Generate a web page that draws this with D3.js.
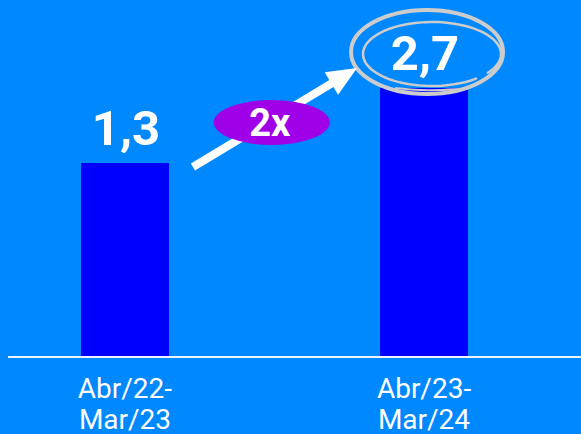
<!DOCTYPE html>
<html>
<head>
<meta charset="utf-8">
<script src="https://cdn.jsdelivr.net/npm/d3@7"></script>
<style>
  html, body { margin: 0; padding: 0; background: #0088ff; }
  svg { display: block; font-family: Roboto, "Noto Sans", sans-serif; }
</style>
</head>
<body>
<svg id="chart" width="581" height="434"></svg>
<script>
// ---- data ----
const categories = ["Abr/22-\nMar/23", "Abr/23-\nMar/24"];
const values = [1.3, 2.7];
const growthLabel = ["2x"];
const yFloor = -2.32; // value at the drawn baseline (bars in source are not drawn to zero)

// ---- setup ----
const W = 581, H = 434;
const svg = d3.select("#chart");
svg.append("rect").attr("width", W).attr("height", H).attr("fill", "#0088ff");

const x = d3.scaleBand().domain(categories).range([-68.5, 617.5])
  .paddingInner(0.706).paddingOuter(0.5);
const y = d3.scaleLinear().domain([yFloor, d3.max(values)]).range([357, 88]);
const fmt = d3.formatLocale({decimal: ",", thousands: "."}).format(".1f");
const data = categories.map((c, i) => ({c, v: values[i]}));
const bw = x.bandwidth();

// bars
svg.selectAll("rect.bar").data(data).join("rect").attr("class", "bar")
  .attr("x", d => x(d.c)).attr("width", bw)
  .attr("y", d => y(d.v)).attr("height", d => y(yFloor) - y(d.v))
  .attr("fill", "#0000ff");

// baseline
svg.append("line").attr("x1", 8).attr("x2", W)
  .attr("y1", y(yFloor)).attr("y2", y(yFloor))
  .attr("stroke", "#eef4ff").attr("stroke-width", 2);

// category labels
const xl = svg.selectAll("text.cat").data(data).join("text").attr("class", "cat")
  .attr("text-anchor", "middle").attr("fill", "#ffffff")
  .attr("font-size", 28);
xl.each(function(d) {
  const lines = d.c.split("\n");
  d3.select(this).selectAll("tspan").data(lines).join("tspan")
    .attr("x", x(d.c) + bw / 2)
    .attr("y", (l, i) => y(yFloor) + 41 + i * 31)
    .text(l => l);
});

// value labels
svg.selectAll("text.val").data(data).join("text").attr("class", "val")
  .attr("x", d => x(d.c) + bw / 2 + 1).attr("y", d => y(d.v) - 18)
  .attr("text-anchor", "middle").attr("fill", "#ffffff")
  .attr("font-size", 49).attr("font-weight", 700)
  .text(d => fmt(d.v));

// hand-drawn circle around last value
const last = data[data.length - 1];
const cx = x(last.c) + bw / 2 + 3, cy = y(last.v) - 36;
svg.append("ellipse").attr("cx", cx).attr("cy", cy).attr("rx", 76).attr("ry", 42)
  .attr("fill", "none").attr("stroke", "#cccccc").attr("stroke-width", 4);
const innerPts = d3.range(0, 1.0001, 0.01).map(t => {
  const a = -Math.PI * 0.28 - t * Math.PI * 1.92;
  return [cx + 5 + 69 * Math.cos(a), cy + 2 - 32 * Math.sin(a)];
});
svg.append("path").attr("d", d3.line()(innerPts))
  .attr("fill", "none").attr("stroke", "#cccccc").attr("stroke-width", 2.5)
  .attr("stroke-linecap", "round");
// small tail under the circle
svg.append("path")
  .attr("d", d3.line().curve(d3.curveBasis)([[cx - 32, cy + 36], [cx, cy + 39], [cx + 34, cy + 37]]))
  .attr("fill", "none").attr("stroke", "#cccccc").attr("stroke-width", 2);

// arrow
const first = data[0];
const ax0 = x(first.c) + bw + 24, ay0 = y(first.v) + 4;
const ax1 = x(last.c) - 23, ay1 = y(last.v) - 20;
const dx = ax1 - ax0, dy = ay1 - ay0, len = Math.hypot(dx, dy);
const ux = dx / len, uy = dy / len, px = -uy, py = ux;
const headL = 30, headW = 13;
const bx = ax1 - ux * headL, by = ay1 - uy * headL;
svg.append("line").attr("x1", ax0).attr("y1", ay0).attr("x2", bx + ux * 2).attr("y2", by + uy * 2)
  .attr("stroke", "#ffffff").attr("stroke-width", 8);
svg.append("path")
  .attr("d", d3.line()([[ax1, ay1], [bx + px * headW, by + py * headW], [bx - px * headW, by - py * headW]]) + "Z")
  .attr("fill", "#ffffff");

// growth badge
const gx = ax0 + dx * 0.48, gy = ay0 + dy * 0.45;
svg.append("ellipse").attr("cx", gx).attr("cy", gy).attr("rx", 58).attr("ry", 22.5)
  .attr("fill", "#a000e8");
svg.append("text").attr("x", gx - 2).attr("y", gy + 13.5)
  .attr("text-anchor", "middle").attr("fill", "#ffffff")
  .attr("font-size", 38).attr("font-weight", 700)
  .text(growthLabel[0]);
</script>
</body>
</html>
